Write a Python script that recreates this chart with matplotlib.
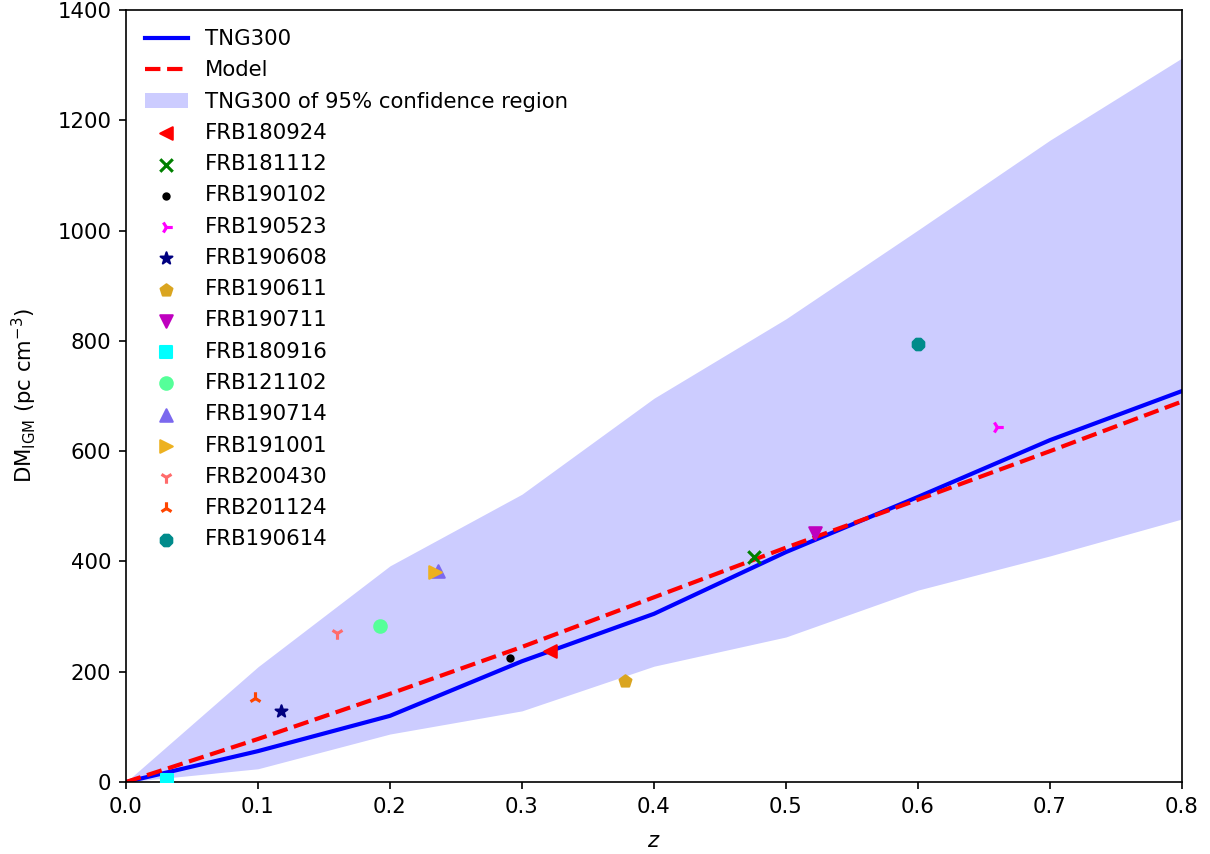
import matplotlib
matplotlib.use("Agg")
import matplotlib.pyplot as plt

z_grid = [0.0, 0.1, 0.2, 0.3, 0.4, 0.5, 0.6, 0.7, 0.8]
tng300 = [0, 56, 120, 219, 305, 417, 517, 620, 709]
model = [0, 78, 160, 245, 335, 425, 512, 600, 690]
band_upper = [0, 209, 392, 522, 696, 840, 1001, 1164, 1313]
band_lower = [0, 24, 87, 129, 210, 263, 348, 410, 477]

frb_names = ["FRB180924", "FRB181112", "FRB190102", "FRB190523", "FRB190608",
             "FRB190611", "FRB190711", "FRB180916", "FRB121102", "FRB190714",
             "FRB191001", "FRB200430", "FRB201124", "FRB190614"]
frb_z = [0.3214, 0.4755, 0.291, 0.66, 0.1178, 0.378, 0.522, 0.031, 0.1927,
         0.2365, 0.234, 0.16, 0.098, 0.60]
frb_dm = [238, 408, 225, 644, 129, 183, 452, 3, 283, 383, 381, 270, 153, 795]
frb_markers = ["<", "x", ".", "4", "*", "p", "v", "s", "o", "^", ">", "1", "2", "8"]
frb_colors = ["red", "green", "black", "magenta", "navy", "goldenrod", "m", "cyan",
              "#55FF99", "mediumslateblue", "#EDB120", "#FF6B6B", "orangered", "darkcyan"]

plt.rcParams["font.size"] = 10.2
fig = plt.figure(figsize=(1210 / 150, 854 / 150), dpi=150)
ax = fig.add_axes([126 / 1210, 1 - 782 / 854, (1182 - 126) / 1210, (782 - 10) / 854])

band = ax.fill_between(z_grid, band_lower, band_upper, color="blue", alpha=0.2,
                       linewidth=0, label="TNG300 of 95% confidence region")
l1, = ax.plot(z_grid, tng300, color="blue", lw=2, label="TNG300")
l2, = ax.plot(z_grid, model, color="red", lw=2, ls="--", label="Model")

handles = [l1, l2, band]
for name, zz, dm, mk, c in zip(frb_names, frb_z, frb_dm, frb_markers, frb_colors):
    h = ax.scatter([zz], [dm], marker=mk, color=c, label=name, zorder=3)
    handles.append(h)

ax.set_xlim(0, 0.8)
ax.set_ylim(0, 1400)
ax.set_xlabel("$z$", labelpad=7)
ax.set_ylabel(r"DM$_{\rm IGM}$ (pc cm$^{-3}$)", labelpad=9)
ax.legend(handles=handles, loc="upper left", frameon=False, labelspacing=0.53)

fig.savefig("out.png", dpi=150)
